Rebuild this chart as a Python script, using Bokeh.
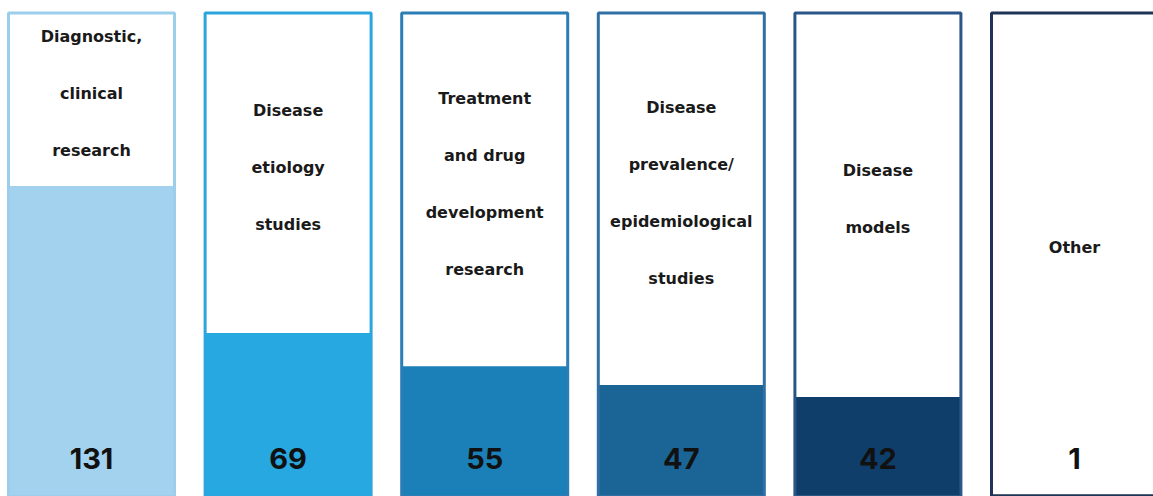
from bokeh.plotting import figure
from bokeh.models import Range1d, ColumnDataSource
from bokeh.embed import file_html
from bokeh.resources import INLINE
from bokeh.core.properties import value

# ---- data ----
categories = [
    "Diagnostic,\nclinical\nresearch",
    "Disease\netiology\nstudies",
    "Treatment\nand drug\ndevelopment\nresearch",
    "Disease\nprevalence/\nepidemiological\nstudies",
    "Disease\nmodels",
    "Other",
]
counts = [131, 69, 55, 47, 42, 1]
fill_colors = ["#a3d2ee", "#27a8e0", "#1a80b7", "#1a6596", "#0f3e6b", "#152f4a"]
line_colors = ["#9ccdeb", "#2aa5de", "#2a7db5", "#2f6fa3", "#2a5587", "#1f3459"]

# ---- layout constants ----
W, H = 1153, 496
px_per_unit = 2.37
pitch = 196.6
first_center = 91.0
box_top = 204.0
bar_w = 166.0 / pitch

xs = list(range(len(categories)))
src = ColumnDataSource(dict(
    x=xs,
    left=[x - bar_w / 2 for x in xs],
    right=[x + bar_w / 2 for x in xs],
    val=counts,
    top=[box_top] * len(xs),
    bottom=[0] * len(xs),
    fill=fill_colors,
    line=line_colors,
    label=categories,
    label_y=[(c + box_top) / 2 + 2.5 for c in counts],
    num=[str(c) for c in counts],
    num_y=[16] * len(xs),
))

x0 = -first_center / pitch
p = figure(width=W, height=H, output_backend="svg", toolbar_location=None,
           x_range=Range1d(x0, x0 + W / pitch),
           y_range=Range1d(0, H / px_per_unit),
           min_border=0, outline_line_color=None)
p.axis.visible = False
p.grid.visible = False
p.background_fill_color = "white"
p.border_fill_color = "white"

# filled part
p.quad(left="left", right="right", bottom="bottom", top="val", source=src,
       fill_color="fill", line_color=None)
# outline box
p.quad(left="left", right="right", bottom="bottom", top="top", source=src,
       fill_color=None, line_color="line", line_width=3)

# category labels
p.text(x="x", y="label_y", text="label", source=src,
       text_font=value("DejaVu Sans"), text_font_style="bold", text_font_size="16px",
       text_color="#1a1a1a", text_align="center", text_baseline="middle",
       text_line_height=3.0)

# numbers
p.text(x="x", y="num_y", text="num", source=src,
       text_font=value("Inter"), text_font_style="bold", text_font_size="29px",
       text_color="#111111", text_align="center", text_baseline="middle")

open("out.html", "w").write(file_html(p, INLINE))
